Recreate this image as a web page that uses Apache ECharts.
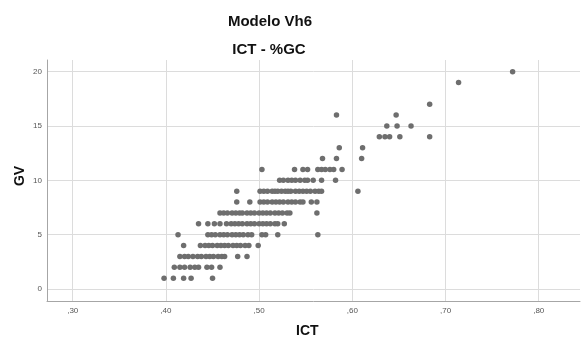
<!DOCTYPE html>
<html>
<head>
<meta charset="utf-8">
<script src="https://cdn.jsdelivr.net/npm/echarts@6/dist/echarts.min.js"></script>
<style>
html,body{margin:0;padding:0;background:#fff;}
#chart{width:583px;height:344px;}
</style>
</head>
<body>
<div id="chart"></div>
<script>
// ICT values observed at each GV level
const gv1 = [0.398, 0.408, 0.419, 0.427, 0.450];
const gv2 = [0.409, 0.415, 0.420, 0.426, 0.431, 0.435, 0.444, 0.449, 0.458];
const gv3 = [0.415, 0.420, 0.424, 0.429, 0.434, 0.438, 0.443, 0.447, 0.451, 0.456, 0.460, 0.463, 0.477, 0.487];
const gv4 = [0.419, 0.437, 0.442, 0.446, 0.450, 0.455, 0.459, 0.463, 0.467, 0.472, 0.476, 0.480, 0.485, 0.489, 0.499];
const gv5 = [0.413, 0.445, 0.449, 0.453, 0.458, 0.462, 0.466, 0.471, 0.475, 0.479, 0.483, 0.488, 0.492, 0.503, 0.507, 0.520, 0.563];
const gv6 = [0.435, 0.445, 0.452, 0.458, 0.465, 0.470, 0.474, 0.478, 0.482, 0.487, 0.491, 0.495, 0.500, 0.504, 0.508, 0.512, 0.517, 0.520, 0.527];
const gv7 = [0.458, 0.462, 0.466, 0.471, 0.475, 0.479, 0.482, 0.487, 0.491, 0.495, 0.500, 0.504, 0.508, 0.512, 0.517, 0.521, 0.525, 0.530, 0.533, 0.562];
const gv8 = [0.476, 0.490, 0.501, 0.505, 0.509, 0.514, 0.518, 0.522, 0.526, 0.531, 0.535, 0.539, 0.544, 0.547, 0.556, 0.562];
const gv9 = [0.476, 0.501, 0.505, 0.509, 0.514, 0.517, 0.520, 0.524, 0.528, 0.531, 0.534, 0.539, 0.543, 0.547, 0.551, 0.555, 0.560, 0.564, 0.567, 0.606];
const gv10 = [0.522, 0.526, 0.531, 0.535, 0.539, 0.544, 0.549, 0.552, 0.558, 0.567, 0.582];
const gv11 = [0.503, 0.538, 0.547, 0.552, 0.563, 0.567, 0.571, 0.576, 0.580, 0.589];
const gv12 = [0.568, 0.583, 0.610];
const gv13 = [0.586, 0.611];
const gv14 = [0.629, 0.635, 0.640, 0.651, 0.683];
const gv15 = [0.637, 0.648, 0.663];
const gv16 = [0.583, 0.647];
const gv17 = [0.683];
const gv19 = [0.714];
const gv20 = [0.772];

const gvLevels = [1, 2, 3, 4, 5, 6, 7, 8, 9, 10, 11, 12, 13, 14, 15, 16, 17, 19, 20];
const ictRows = [gv1, gv2, gv3, gv4, gv5, gv6, gv7, gv8, gv9, gv10, gv11, gv12, gv13, gv14, gv15, gv16, gv17, gv19, gv20];

const xTicks = [0.3, 0.4, 0.5, 0.6, 0.7, 0.8];
const xTickLabels = [',30', ',40', ',50', ',60', ',70', ',80'];
const yTicks = [0, 5, 10, 15, 20];

const points = [];
ictRows.forEach((row, i) => row.forEach(x => points.push([x, gvLevels[i]])));

const chart = echarts.init(document.getElementById('chart'), null, {renderer: 'canvas'});
const font = '"Liberation Sans", Arial, sans-serif';
chart.setOption({
  animation: false,
  backgroundColor: '#ffffff',
  title: [
    {text: 'Modelo Vh6', left: 265, top: 9, textAlign: 'center',
     textStyle: {fontFamily: font, fontSize: 15, fontWeight: 'bold', color: '#111'}},
    {text: 'ICT - %GC', left: 264, top: 37, textAlign: 'center',
     textStyle: {fontFamily: font, fontSize: 15, fontWeight: 'bold', color: '#111'}}
  ],
  graphic: [
    {type: 'text', left: 296, top: 324,
     style: {text: 'ICT', font: 'bold 14px ' + font, fill: '#111'}},
    {type: 'text', x: 20, y: 176, rotation: Math.PI / 2,
     style: {text: 'GV', font: 'bold 14px ' + font, fill: '#111', textAlign: 'center', textVerticalAlign: 'middle'}}
  ],
  grid: {left: 47, top: 60, width: 533, height: 241, containLabel: false},
  xAxis: {
    type: 'value', min: 0.2724, max: 0.8443,
    axisLine: {show: true, onZero: false, lineStyle: {color: '#a6a6a6', width: 1}},
    axisTick: {show: false, customValues: xTicks},
    axisLabel: {customValues: xTicks, fontFamily: font, fontSize: 8, color: '#555', margin: 6,
      formatter: v => xTickLabels[xTicks.findIndex(t => Math.abs(t - v) < 1e-6)] || ''},
    splitLine: {show: true, lineStyle: {color: '#dcdcdc', width: 1}}
  },
  yAxis: {
    type: 'value', min: -1.1, max: 21.07,
    axisLine: {show: true, onZero: false, lineStyle: {color: '#a6a6a6', width: 1}},
    axisTick: {show: false, customValues: yTicks},
    axisLabel: {customValues: yTicks, fontFamily: font, fontSize: 8, color: '#555', margin: 5},
    splitLine: {show: true, lineStyle: {color: '#dcdcdc', width: 1}}
  },
  series: [{
    type: 'scatter',
    data: points,
    symbol: 'circle',
    symbolSize: 5.5,
    itemStyle: {color: '#6e6e6e', opacity: 1},
    silent: true
  }]
});
</script>
</body>
</html>
